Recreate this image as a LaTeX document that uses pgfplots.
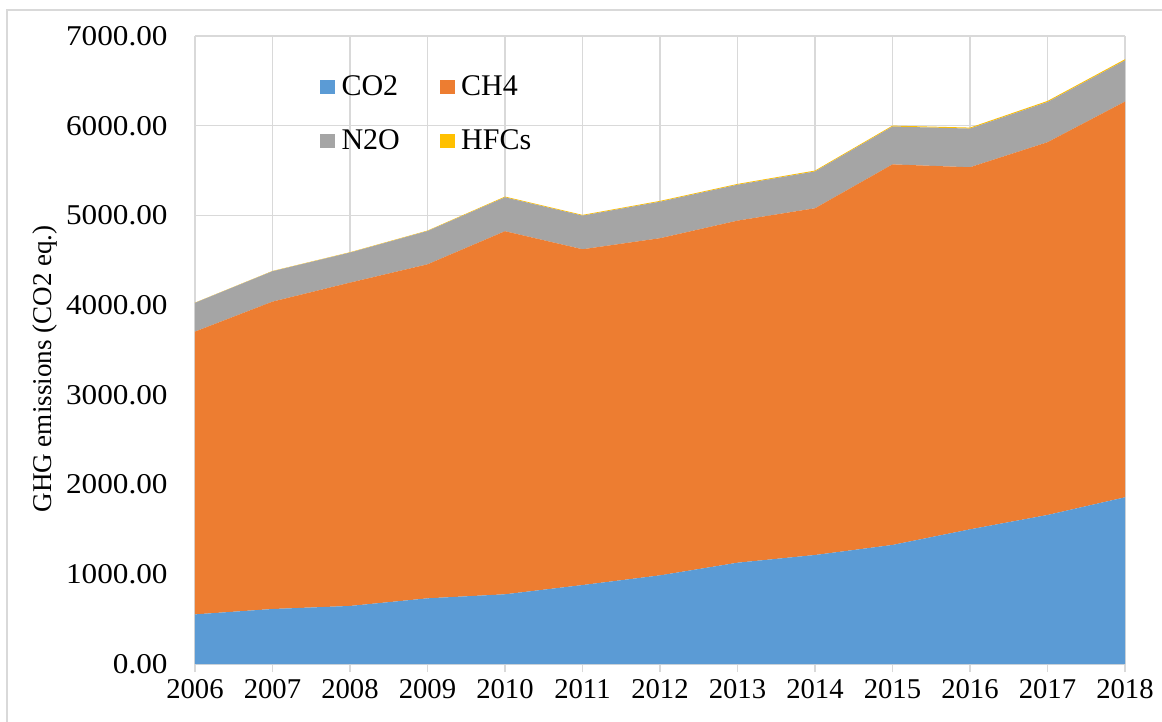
\documentclass[border=0pt]{standalone}
\usepackage{fontspec}
\setmainfont{Liberation Serif}
\newfontfamily\ytickfont[FakeStretch=1.09]{Liberation Serif}
\usepackage{pgfplots}
\pgfplotsset{compat=1.18}
\definecolor{cCO}{RGB}{91,155,213}
\definecolor{cCH}{RGB}{237,125,49}
\definecolor{cNO}{RGB}{165,165,165}
\definecolor{cHF}{RGB}{255,192,0}
\definecolor{gridc}{RGB}{217,217,217}
\begin{document}
\begin{tikzpicture}
\path[use as bounding box] (-146.25pt,-42.75pt) rectangle (725.25pt,498pt);
\draw[gridc,line width=1pt] (-141pt,-45pt) -- (-141pt,490.5pt) -- (730pt,490.5pt);
\begin{axis}[
  scale only axis,
  width=697.5pt, height=471pt,
  xmin=2006, xmax=2018, ymin=0, ymax=7000,
  stack plots=y,
  xtick={2006,2007,...,2018},
  ytick={0,1000,...,7000},
  grid=major,
  major grid style={gridc,line width=1pt},
  axis x line*=bottom,
  axis y line*=left,
  x axis line style={gridc,line width=1pt,-},
  y axis line style={draw=none,-},
  x tick style={gridc,line width=1pt},
  y tick style={draw=none},
  major tick length=6pt,
  xtick align=outside,
  /pgf/number format/assume math mode=true,
  xticklabel style={/pgf/number format/1000 sep={}, font=\fontsize{21.5}{24}\selectfont, yshift=-2pt},
  yticklabel style={/pgf/number format/fixed, /pgf/number format/fixed zerofill, /pgf/number format/precision=2, /pgf/number format/1000 sep={}, font=\ytickfont\fontsize{21.5}{24}\selectfont, xshift=-17pt},
  ylabel={GHG emissions (CO2 eq.)},
  ylabel style={at={(axis description cs:-0.161,0.47)}, anchor=center, font=\fontsize{20.3}{24}\selectfont},
  legend columns=2,
  legend style={at={(0.13,0.945)}, anchor=north west, draw=none, fill=none, font=\fontsize{22.5}{26}\selectfont, /tikz/every even column/.append style={column sep=28pt}, row sep=20pt},
  legend image code/.code={\fill[#1] (0pt,-5.5pt) rectangle (11pt,5.5pt);},
  legend cell align=left,
]
\addplot[fill=cCO, draw=none] coordinates {
(2006,553) (2007,613) (2008,647) (2009,732) (2010,777) (2011,880) (2012,988) (2013,1129) (2014,1215) (2015,1327) (2016,1501) (2017,1661) (2018,1858)
} \closedcycle;
\addlegendentry{\hspace{3pt}CO2}
\addplot[fill=cCH, draw=none] coordinates {
(2006,3152) (2007,3426) (2008,3604) (2009,3723) (2010,4047) (2011,3743) (2012,3758) (2013,3813) (2014,3865) (2015,4242) (2016,4036) (2017,4155) (2018,4411)
} \closedcycle;
\addlegendentry{\hspace{3pt}CH4}
\addplot[fill=cNO, draw=none] coordinates {
(2006,321) (2007,339) (2008,335) (2009,371) (2010,378) (2011,375) (2012,407) (2013,400) (2014,410) (2015,422) (2016,431) (2017,448) (2018,459)
} \closedcycle;
\addlegendentry{\hspace{3pt}N2O}
\addplot[fill=cHF, draw=none] coordinates {
(2006,2) (2007,3) (2008,4) (2009,5) (2010,8) (2011,8) (2012,9) (2013,9) (2014,10) (2015,10) (2016,11) (2017,12) (2018,13)
} \closedcycle;
\addlegendentry{\hspace{3pt}HFCs}
\end{axis}
\end{tikzpicture}
\end{document}
